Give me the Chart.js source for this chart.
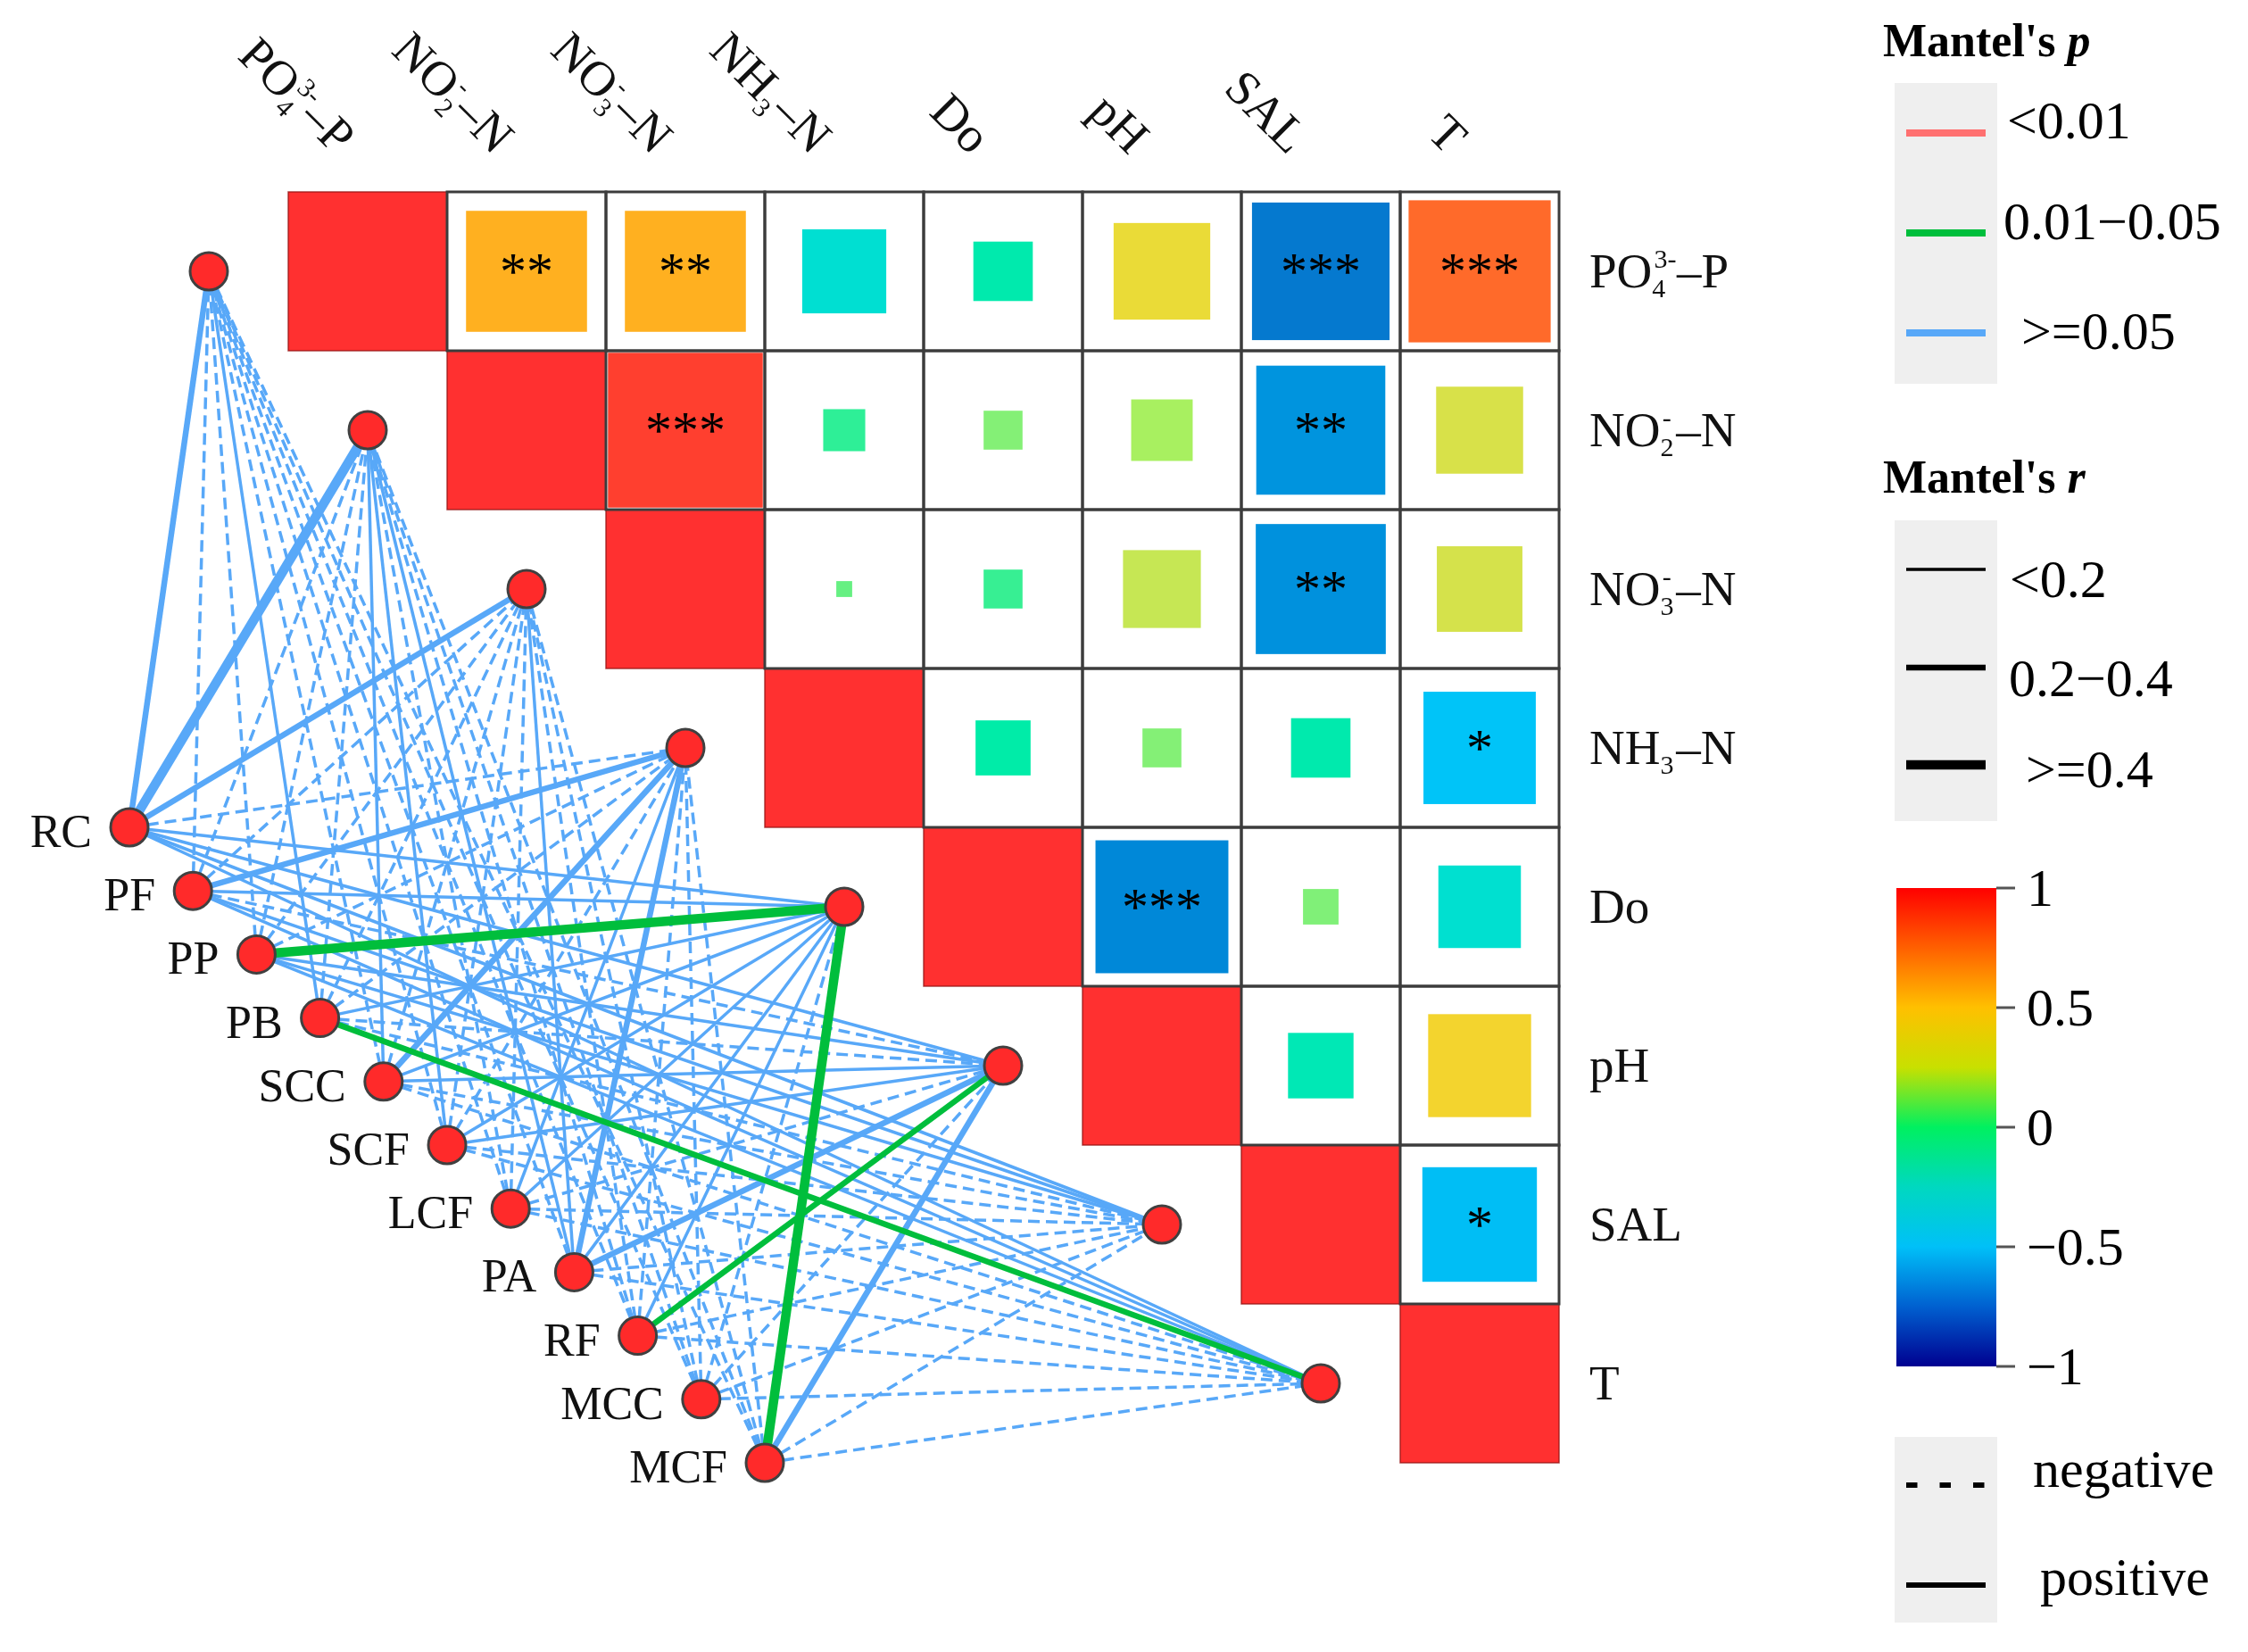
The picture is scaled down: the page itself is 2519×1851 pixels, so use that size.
<!DOCTYPE html>
<html>
<head>
  <meta charset="utf-8">
  <title>Mantel test network</title>
  <script src="https://cdn.jsdelivr.net/npm/chart.js@4.4.0/dist/chart.umd.min.js"></script>
  <style>
    html, body {
      margin: 0;
      padding: 0;
      background: #ffffff;
    }
    #wrap {
      width: 2519px;
      height: 1851px;
    }
  </style>
</head>
<body>
  <div id="wrap"><canvas id="chart" width="2519" height="1851"></canvas></div>

  <script>
    // environmental factors, [sub|sup] marks sub/superscripts
    const envLabels = ['PO[4|3-]–P', 'NO[2|-]–N', 'NO[3|-]–N', 'NH[3|]–N', 'Do', 'pH', 'SAL', 'T'];

    // species groups (network nodes)
    const species = ['RC', 'PF', 'PP', 'PB', 'SCC', 'SCF', 'LCF', 'PA', 'RF', 'MCC', 'MCF'];

    // Pearson r between environmental factors (upper triangle)
    const corrR = [
      [1.00, 0.58, 0.58, -0.28, -0.14, 0.37, -0.75, 0.80],
      [null, 1.00, 0.95, -0.07, 0.06, 0.15, -0.66, 0.30],
      [null, null, 1.00, 0.01, -0.06, 0.24, -0.67, 0.29],
      [null, null, null, 1.00, -0.12, 0.06, -0.14, -0.50],
      [null, null, null, null, 1.00, -0.70, 0.05, -0.27],
      [null, null, null, null, null, 1.00, -0.17, 0.42],
      [null, null, null, null, null, null, 1.00, -0.52],
      [null, null, null, null, null, null, null, 1.00]
    ];
    const corrStars = [
      ['', '**', '**', '', '', '', '***', '***'],
      ['', '', '***', '', '', '', '**', ''],
      ['', '', '', '', '', '', '**', ''],
      ['', '', '', '', '', '', '', '*'],
      ['', '', '', '', '', '***', '', ''],
      ['', '', '', '', '', '', '', ''],
      ['', '', '', '', '', '', '', '*'],
      ['', '', '', '', '', '', '', '']
    ];

    // Mantel r (sign kept) and p, one row per species, columns = envLabels
    const mantelR = [
      [0.30, 0.45, 0.30, -0.10, 0.10, 0.10, 0.10, 0.10],
      [-0.10, -0.10, -0.10, 0.30, 0.10, -0.10, 0.10, 0.10],
      [-0.10, -0.10, -0.10, -0.10, 0.45, 0.10, 0.10, 0.10],
      [0.10, -0.10, -0.10, -0.10, 0.10, -0.10, -0.10, 0.30],
      [-0.10, 0.10, -0.10, 0.30, 0.10, 0.10, -0.10, -0.10],
      [-0.10, 0.10, -0.10, -0.10, 0.10, 0.10, -0.10, -0.10],
      [-0.10, -0.10, -0.10, 0.10, 0.10, -0.10, -0.10, -0.10],
      [-0.10, 0.10, 0.10, 0.35, 0.10, 0.30, -0.10, -0.10],
      [-0.10, -0.10, -0.10, -0.10, 0.10, 0.25, -0.10, -0.10],
      [-0.10, -0.10, -0.10, -0.10, -0.10, -0.10, -0.10, -0.10],
      [-0.10, -0.10, -0.10, -0.10, 0.42, 0.30, -0.10, -0.10]
    ];
    const mantelP = [
      [0.21, 0.12, 0.25, 0.62, 0.48, 0.55, 0.71, 0.66],
      [0.74, 0.69, 0.58, 0.18, 0.44, 0.63, 0.52, 0.60],
      [0.81, 0.77, 0.66, 0.59, 0.03, 0.41, 0.47, 0.39],
      [0.35, 0.72, 0.68, 0.70, 0.45, 0.57, 0.61, 0.04],
      [0.66, 0.42, 0.73, 0.16, 0.50, 0.54, 0.79, 0.83],
      [0.69, 0.47, 0.75, 0.62, 0.46, 0.52, 0.80, 0.77],
      [0.72, 0.63, 0.78, 0.40, 0.44, 0.61, 0.74, 0.81],
      [0.57, 0.36, 0.38, 0.10, 0.33, 0.13, 0.65, 0.70],
      [0.76, 0.70, 0.69, 0.64, 0.49, 0.04, 0.72, 0.75],
      [0.82, 0.79, 0.80, 0.71, 0.67, 0.69, 0.84, 0.86],
      [0.78, 0.74, 0.77, 0.60, 0.02, 0.15, 0.71, 0.80]
    ];

    // colorbar ticks
    const colorTicks = [1, 0.5, 0, -0.5, -1];

    const W = 2519, H = 1851;
    const CELL = 178, OX = 323, OY = 215;
    const FONT = '"Liberation Serif", "Times New Roman", serif';

    // colour ramp used for the matrix squares
    const cellStops = [
      [-1, [32, 48, 160]], [-0.7, [0, 136, 216]], [-0.5, [0, 196, 248]],
      [-0.27, [0, 224, 208]], [-0.12, [0, 236, 168]], [-0.05, [64, 240, 144]],
      [0.05, [128, 240, 120]], [0.15, [168, 240, 96]], [0.27, [208, 228, 80]],
      [0.4, [242, 216, 48]], [0.58, [255, 176, 32]], [0.8, [255, 106, 42]],
      [1, [255, 48, 48]]
    ];
    function cellColor(r) {
      for (let i = 1; i < cellStops.length; i++) {
        const [v1, c1] = cellStops[i];
        const [v0, c0] = cellStops[i - 1];
        if (r <= v1) {
          const t = (r - v0) / (v1 - v0);
          const c = c0.map((a, k) => Math.round(a + (c1[k] - a) * t));
          return 'rgb(' + c.join(',') + ')';
        }
      }
      return 'rgb(255,48,48)';
    }

    function parseLabel(s) {
      const parts = [];
      const re = /\[([^|\]]*)\|([^\]]*)\]/g;
      let last = 0, m;
      while ((m = re.exec(s))) {
        if (m.index > last) parts.push({ t: s.slice(last, m.index) });
        parts.push({ sub: m[1], sup: m[2] });
        last = re.lastIndex;
      }
      if (last < s.length) parts.push({ t: s.slice(last) });
      return parts;
    }
    function richWidth(ctx, parts, size) {
      let w = 0;
      for (const p of parts) {
        if (p.t !== undefined) {
          ctx.font = size + 'px ' + FONT;
          w += ctx.measureText(p.t).width;
        } else {
          ctx.font = Math.round(size * 0.55) + 'px ' + FONT;
          w += Math.max(ctx.measureText(p.sub).width, ctx.measureText(p.sup).width) + size * 0.05;
        }
      }
      return w;
    }
    function drawRich(ctx, parts, x, y, size) {
      let cx = x;
      ctx.textAlign = 'left';
      ctx.textBaseline = 'alphabetic';
      for (const p of parts) {
        if (p.t !== undefined) {
          ctx.font = size + 'px ' + FONT;
          ctx.fillText(p.t, cx, y);
          cx += ctx.measureText(p.t).width;
        } else {
          ctx.font = Math.round(size * 0.55) + 'px ' + FONT;
          ctx.fillText(p.sub, cx, y + size * 0.2);
          ctx.fillText(p.sup, cx + size * 0.04, y - size * 0.4);
          cx += Math.max(ctx.measureText(p.sub).width, ctx.measureText(p.sup).width) + size * 0.05;
        }
      }
    }

    const envPos = envLabels.map((_, i) => ({ x: i - 0.5, y: i + 0.5 }));
    const speciesPos = species.map((_, k) => ({ x: -1 + 0.4 * k, y: 4 + 0.4 * k }));

    function edgeColor(p) {
      if (p < 0.01) return '#ff7070';
      if (p < 0.05) return '#00be3c';
      return '#58a8f8';
    }
    function edgeWidth(r) {
      const a = Math.abs(r);
      if (a < 0.2) return 3.5;
      if (a < 0.4) return 6.5;
      return 10.5;
    }

    const edgeSets = [];
    species.forEach((sp, k) => {
      envLabels.forEach((ev, i) => {
        const r = mantelR[k][i], p = mantelP[k][i];
        edgeSets.push({
          label: sp + '-' + ev,
          data: [speciesPos[k], envPos[i]],
          showLine: true,
          borderColor: edgeColor(p),
          borderWidth: edgeWidth(r),
          borderDash: r < 0 ? [13, 7] : [],
          pointRadius: 0,
          order: p < 0.05 ? 1 : 2
        });
      });
    });

    const nodeStyle = {
      showLine: false,
      pointRadius: 21,
      pointBackgroundColor: '#ff2a2a',
      pointBorderColor: '#404040',
      pointBorderWidth: 3,
      order: 0
    };

    const matrixPlugin = {
      id: 'matrix',
      beforeDatasetsDraw(chart) {
        const { ctx, scales: { x, y } } = chart;
        const n = envLabels.length;
        ctx.save();
        for (let i = 0; i < n; i++) {
          for (let j = i; j < n; j++) {
            const x0 = x.getPixelForValue(j), x1 = x.getPixelForValue(j + 1);
            const y0 = y.getPixelForValue(i), y1 = y.getPixelForValue(i + 1);
            const r = corrR[i][j];
            const h = Math.sqrt(Math.abs(r)) / 2;
            ctx.fillStyle = '#ffffff';
            ctx.fillRect(x0, y0, x1 - x0, y1 - y0);
            const sx0 = x.getPixelForValue(j + 0.5 - h), sx1 = x.getPixelForValue(j + 0.5 + h);
            const sy0 = y.getPixelForValue(i + 0.5 - h), sy1 = y.getPixelForValue(i + 0.5 + h);
            ctx.fillStyle = cellColor(r);
            ctx.fillRect(sx0, sy0, sx1 - sx0, sy1 - sy0);
            if (i === j) {
              ctx.strokeStyle = 'rgba(150,20,20,0.8)';
              ctx.lineWidth = 1.5;
              ctx.strokeRect(x0, y0, x1 - x0, y1 - y0);
            }
          }
        }
        ctx.strokeStyle = '#3c3c3c';
        ctx.lineWidth = 3;
        for (let i = 0; i < n; i++) {
          for (let j = i + 1; j < n; j++) {
            const x0 = x.getPixelForValue(j), x1 = x.getPixelForValue(j + 1);
            const y0 = y.getPixelForValue(i), y1 = y.getPixelForValue(i + 1);
            ctx.strokeRect(x0, y0, x1 - x0, y1 - y0);
          }
        }
        ctx.fillStyle = '#000';
        ctx.font = '60px ' + FONT;
        ctx.textAlign = 'center';
        ctx.textBaseline = 'alphabetic';
        for (let i = 0; i < n; i++) {
          for (let j = i; j < n; j++) {
            if (!corrStars[i][j]) continue;
            ctx.fillText(corrStars[i][j], x.getPixelForValue(j + 0.5), y.getPixelForValue(i + 0.5) + 20);
          }
        }
        ctx.restore();
      }
    };

    const labelPlugin = {
      id: 'labels',
      afterDatasetsDraw(chart) {
        const { ctx, scales: { x, y } } = chart;
        const size = 55;
        ctx.save();
        ctx.fillStyle = '#111';
        envLabels.forEach((lab, i) => {
          const parts = parseLabel(lab);
          // right side
          drawRich(ctx, parts, x.getPixelForValue(envLabels.length) + 34, y.getPixelForValue(i + 0.5) + 18, size);
          // top, rotated
          const w = richWidth(ctx, parts, size);
          ctx.save();
          ctx.translate(x.getPixelForValue(i + 0.5) - 24, y.getPixelForValue(0) - 53);
          ctx.rotate(Math.PI / 4);
          drawRich(ctx, parts, -w, size * 0.33, size);
          ctx.restore();
        });
        ctx.font = '52px ' + FONT;
        ctx.textAlign = 'right';
        ctx.textBaseline = 'alphabetic';
        species.forEach((sp, k) => {
          ctx.fillText(sp, x.getPixelForValue(speciesPos[k].x) - 42, y.getPixelForValue(speciesPos[k].y) + 22);
        });
        ctx.restore();
      }
    };

    const legendPlugin = {
      id: 'mantelLegend',
      afterDraw(chart) {
        const ctx = chart.ctx;
        ctx.save();
        function title(txt, it, bx, by) {
          ctx.fillStyle = '#000';
          ctx.textAlign = 'left';
          ctx.textBaseline = 'alphabetic';
          ctx.font = 'bold 52px ' + FONT;
          ctx.fillText(txt, bx, by);
          const w = ctx.measureText(txt).width;
          ctx.font = 'italic bold 52px ' + FONT;
          ctx.fillText(it, bx + w, by);
        }
        function text(txt, tx, ty) {
          ctx.fillStyle = '#000';
          ctx.font = '60px ' + FONT;
          ctx.textAlign = 'left';
          ctx.textBaseline = 'alphabetic';
          ctx.fillText(txt, tx, ty);
        }
        function seg(yy, color, lw, dash) {
          ctx.strokeStyle = color;
          ctx.lineWidth = lw;
          ctx.setLineDash(dash || []);
          ctx.beginPath();
          ctx.moveTo(2136, yy);
          ctx.lineTo(2225, yy);
          ctx.stroke();
          ctx.setLineDash([]);
        }
        // Mantel's p
        title("Mantel's ", 'p', 2110, 63);
        ctx.fillStyle = '#efefef';
        ctx.fillRect(2123, 93, 115, 337);
        seg(149, '#ff7070', 8);
        seg(261, '#00be3c', 8);
        seg(373, '#58a8f8', 8);
        text('<0.01', 2249, 155);
        text('0.01−0.05', 2245, 268);
        text('>=0.05', 2265, 391);

        // Mantel's r
        title("Mantel's ", 'r', 2110, 552);
        ctx.fillStyle = '#efefef';
        ctx.fillRect(2123, 583, 115, 337);
        seg(638, '#000', 3.3);
        seg(748, '#000', 6.5);
        seg(857, '#000', 10.5);
        text('<0.2', 2252, 669);
        text('0.2−0.4', 2251, 780);
        text('>=0.4', 2270, 882);

        // colour bar
        const top = 995, bot = 1531;
        const g = ctx.createLinearGradient(0, top, 0, bot);
        g.addColorStop(0, '#ff0000');
        g.addColorStop(0.125, '#ff6000');
        g.addColorStop(0.25, '#ffc000');
        g.addColorStop(0.375, '#c8e000');
        g.addColorStop(0.5, '#00f060');
        g.addColorStop(0.625, '#00d8c0');
        g.addColorStop(0.75, '#00c0f8');
        g.addColorStop(0.875, '#0060d0');
        g.addColorStop(1, '#000090');
        ctx.fillStyle = g;
        ctx.fillRect(2125, top, 112, bot - top);
        colorTicks.forEach(v => {
          const ty = top + (1 - v) / 2 * (bot - top);
          ctx.strokeStyle = '#555';
          ctx.lineWidth = 3;
          ctx.beginPath();
          ctx.moveTo(2237, ty);
          ctx.lineTo(2258, ty);
          ctx.stroke();
          text(v < 0 ? '−' + Math.abs(v) : String(v), 2271, ty + 20);
        });

        // sign
        ctx.fillStyle = '#efefef';
        ctx.fillRect(2123, 1610, 115, 208);
        seg(1664, '#000', 6, [12.5, 25]);
        seg(1776, '#000', 6);
        text('negative', 2278, 1666);
        text('positive', 2286, 1787);
        ctx.restore();
      }
    };

    const ctx = document.getElementById('chart').getContext('2d');
    new Chart(ctx, {
      type: 'scatter',
      data: {
        datasets: [
          ...edgeSets,
          Object.assign({ label: 'env', data: envPos }, nodeStyle),
          Object.assign({ label: 'species', data: speciesPos }, nodeStyle)
        ]
      },
      options: {
        responsive: false,
        animation: false,
        devicePixelRatio: 1,
        layout: { padding: 0, autoPadding: false },
        plugins: {
          legend: { display: false },
          tooltip: { enabled: false }
        },
        scales: {
          x: { type: 'linear', display: false, min: -OX / CELL, max: (W - OX) / CELL },
          y: { type: 'linear', display: false, reverse: true, min: -OY / CELL, max: (H - OY) / CELL }
        }
      },
      plugins: [matrixPlugin, labelPlugin, legendPlugin]
    });
  </script>
</body>
</html>
